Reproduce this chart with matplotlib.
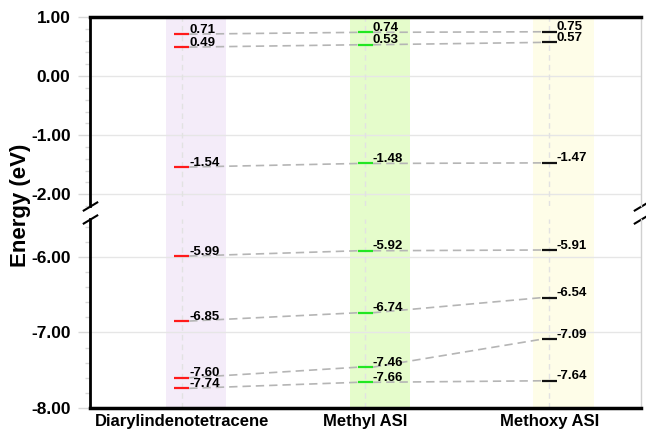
import matplotlib
matplotlib.use('Agg')
import matplotlib.pyplot as plt
from matplotlib.ticker import MultipleLocator, FormatStrFormatter

plt.rcParams['font.family'] = ['Liberation Sans', 'DejaVu Sans']
plt.rcParams['font.weight'] = 'bold'

# molecules and their orbital energies (eV)
categories = ['Diarylindenotetracene', 'Methyl ASI', 'Methoxy ASI']
diaryl = [0.71, 0.49, -1.54, -5.99, -6.85, -7.60, -7.74]
methyl = [0.74, 0.53, -1.48, -5.92, -6.74, -7.46, -7.66]
methoxy = [0.75, 0.57, -1.47, -5.91, -6.54, -7.09, -7.64]
levels = [diaryl, methyl, methoxy]

level_colors = ['#ff1a1a', '#22e622', '#111111']
band_colors = ['#f4ecf9', '#e5fccb', '#fefde8']

xpos = [0, 1, 2]
half = 0.04          # half width of a level bar
split = -3.0         # values above go to the upper panel

W, H = 646, 430
fig = plt.figure(figsize=(W / 100, H / 100), dpi=100)

left, right = 90, 641
top_y, top_b = 17, 206
bot_t, bot_b = 219, 408

def rect(y0, y1):
    return [left / W, 1 - y1 / H, (right - left) / W, (y1 - y0) / H]

# background axes for the coloured columns
bg = fig.add_axes(rect(top_y, bot_b))
bg.set_xlim(-0.5, 2.5)
bg.set_ylim(0, 1)
bg.axis('off')
for x, c in zip(xpos, band_colors):
    bg.axvspan(x - 0.086, x + 0.243, color=c, lw=0)

ax_top = fig.add_axes(rect(top_y, top_b))
ax_bot = fig.add_axes(rect(bot_t, bot_b))
ax_top.set_ylim(-2.2, 1.0)
ax_bot.set_ylim(-8.0, -5.5)

for ax in (ax_top, ax_bot):
    ax.set_facecolor('none')
    ax.set_xlim(-0.5, 2.5)
    ax.yaxis.set_major_locator(MultipleLocator(1.0))
    ax.yaxis.set_minor_locator(MultipleLocator(0.2))
    ax.yaxis.set_major_formatter(FormatStrFormatter('%.2f'))
    ax.tick_params(axis='y', which='major', direction='out', length=9,
                   width=1, color='#d8d8d8', labelsize=12.5, pad=5)
    ax.tick_params(axis='y', which='minor', direction='out', length=3.5,
                   width=1, color='#d8d8d8')
    ax.grid(axis='y', which='major', color='#e6e6e6', lw=1)
    ax.set_axisbelow(True)
    ax.spines['left'].set_linewidth(2)
    ax.spines['left'].set_color('black')
    ax.spines['right'].set_color('#d0d0d0')
    ax.spines['right'].set_linewidth(1)
    for x in xpos:
        ax.axvline(x, color='#e2e2e2', lw=1, ls=(0, (4, 3)), zorder=1)

ax_top.spines['bottom'].set_visible(False)
ax_top.spines['top'].set_linewidth(2.5)
ax_top.tick_params(axis='x', bottom=False, labelbottom=False)
ax_bot.spines['top'].set_visible(False)
ax_bot.spines['bottom'].set_linewidth(2.5)
ax_bot.set_xticks(xpos)
ax_bot.set_xticklabels(categories, fontsize=12, fontweight='bold')
ax_bot.tick_params(axis='x', length=0, pad=4)

def panel(v):
    return ax_top if v > split else ax_bot

# dashed connectors between neighbouring columns
for i in range(len(xpos) - 1):
    for a, b in zip(levels[i], levels[i + 1]):
        panel(a).plot([xpos[i] + half, xpos[i + 1] - half], [a, b],
                      color='#b5b5b5', lw=1.2, ls=(0, (5, 3)), zorder=2)

# level bars with value labels
for x, vals, c in zip(xpos, levels, level_colors):
    for v in vals:
        ax = panel(v)
        ax.plot([x - half, x + half], [v, v], color=c, lw=1.6, zorder=3,
                solid_capstyle='butt')
        ax.annotate(f'{v:.2f}', (x + half, v), xytext=(0, 1),
                    textcoords='offset points', ha='left', va='baseline',
                    fontsize=9.5, fontweight='bold', zorder=4)

# break marks on the axis
kw = dict(marker=[(-1, -0.6), (1, 0.6)], markersize=11, linestyle='none',
          color='k', mec='k', mew=1.5, clip_on=False)
ax_top.plot([0, 1], [0, 0], transform=ax_top.transAxes, **kw)
ax_bot.plot([0, 1], [1, 1], transform=ax_bot.transAxes, **kw)

fig.text(21 / W, 1 - 205 / H, 'Energy (eV)', rotation=90, ha='center',
         va='center', fontsize=16, fontweight='bold')

fig.savefig('out.png', dpi=100)
